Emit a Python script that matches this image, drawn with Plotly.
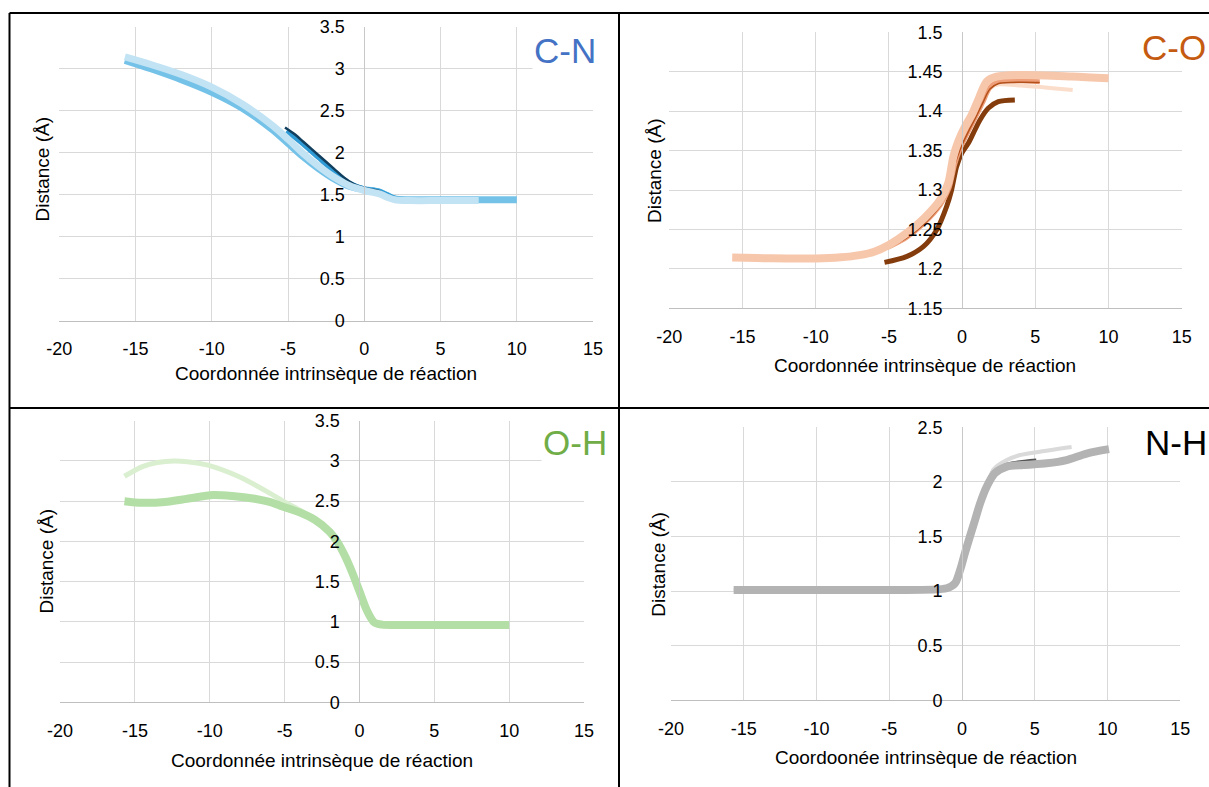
import plotly.graph_objects as go

W, H = 1209, 787

# ---------------- DATA ----------------
# Panel C-N
cn_a_x = [-15.7, -14, -12, -10, -8, -6, -5, -4, -3, -2, -1, 0, 0.5, 1, 1.5, 2, 3, 5, 7.5]
cn_a_y = [3.14, 3.05, 2.93, 2.78, 2.58, 2.32, 2.16, 1.99, 1.84, 1.71, 1.61, 1.55, 1.53, 1.51, 1.47, 1.44, 1.43, 1.43, 1.43]
cn_b_x = [-15.7, -14, -12, -10, -8, -6, -5, -4, -3, -2, -1, 0, 0.5, 1, 1.5, 2, 3, 5, 7.5, 10]
cn_b_y = [3.10, 3.00, 2.87, 2.72, 2.53, 2.27, 2.11, 1.95, 1.81, 1.69, 1.60, 1.56, 1.55, 1.53, 1.49, 1.45, 1.44, 1.44, 1.44, 1.44]
cn_c_x = [-5.1, -4, -3, -2, -1, 0, 1, 2, 3]
cn_c_y = [2.26, 2.10, 1.94, 1.78, 1.64, 1.57, 1.54, 1.46, 1.44]
cn_d_x = [-5.2, -4.5, -4, -3, -2, -1.5, -1, -0.5, 0, 0.5, 1, 1.5, 2, 3]
cn_d_y = [2.30, 2.21, 2.13, 1.97, 1.81, 1.73, 1.66, 1.61, 1.58, 1.56, 1.54, 1.49, 1.45, 1.44]

# Panel C-O
co_a_x = [-15.7, -14, -12, -10, -8.3, -7, -6, -5, -3.8, -2.6, -1.5, -0.95, -0.6, -0.27, 0.2, 0.65, 1.1, 1.67, 2.35, 4.2, 7.5, 10]
co_a_y = [1.2143, 1.2137, 1.2133, 1.2132, 1.2147, 1.2175, 1.2218, 1.2303, 1.2451, 1.2641, 1.2873, 1.3085, 1.3423, 1.3613, 1.3803, 1.3951, 1.4142, 1.4374, 1.4437, 1.4459, 1.4440, 1.4417]
co_b_x = [-5.1, -3.8, -2.6, -1.5, -0.9, -0.5, -0.1, 0.4, 0.9, 1.4, 1.9, 2.5, 4, 6, 7.55]
co_b_y = [1.2290, 1.2420, 1.2600, 1.2830, 1.3040, 1.3350, 1.3560, 1.3760, 1.3940, 1.4120, 1.4290, 1.4340, 1.4325, 1.4295, 1.4268]
co_c_x = [-5.1, -3.8, -2.6, -1.5, -0.9, -0.5, -0.1, 0.4, 0.9, 1.4, 1.9, 2.5, 4, 5.3]
co_c_y = [1.2270, 1.2400, 1.2580, 1.2810, 1.3020, 1.3330, 1.3540, 1.3740, 1.3920, 1.4110, 1.4300, 1.4380, 1.4385, 1.4374]
co_d_x = [-5.1, -3.8, -2.6, -1.5, -0.9, -0.5, -0.1, 0.4, 0.9, 1.4, 1.9, 2.5, 4, 5.3]
co_d_y = [1.2260, 1.2390, 1.2570, 1.2800, 1.3010, 1.3320, 1.3530, 1.3730, 1.3910, 1.4100, 1.4280, 1.4350, 1.4368, 1.4362]
co_e_x = [-5.3, -3.8, -2.65, -1.74, -1.06, -0.72, -0.38, -0.03, 0.42, 0.76, 1.22, 1.78, 2.47, 3.6]
co_e_y = [1.2083, 1.2155, 1.2281, 1.2493, 1.2789, 1.3000, 1.3296, 1.3466, 1.3592, 1.3719, 1.3888, 1.4036, 1.4120, 1.4142]

# Panel O-H
oh_a_x = [-15.7, -14.5, -13.5, -12.4, -11.5, -10.2, -8, -6, -5, -4, -3, -2, -1.5, -1, -0.5, 0, 0.5, 1, 1.5, 3, 5, 7.5]
oh_a_y = [2.81, 2.93, 2.98, 3.00, 2.99, 2.95, 2.80, 2.60, 2.49, 2.39, 2.28, 2.13, 2.00, 1.83, 1.62, 1.40, 1.16, 1.00, 0.975, 0.97, 0.965, 0.965]
oh_b_x = [-15.7, -14.5, -13, -11.5, -9.8, -8.5, -7, -6, -5.3, -4, -3, -2, -1.5, -1, -0.5, 0, 0.5, 1, 1.5, 3, 5, 7.5, 10]
oh_b_y = [2.50, 2.48, 2.49, 2.53, 2.577, 2.565, 2.53, 2.49, 2.443, 2.36, 2.27, 2.12, 2.00, 1.83, 1.62, 1.38, 1.14, 0.99, 0.965, 0.96, 0.96, 0.96, 0.96]
oh_c_x = [-5.2, -4, -3, -2]
oh_c_y = [2.45, 2.37, 2.27, 2.12]

# Panel N-H
nh_a_x = [-15.7, -10, -5, -1.06, -0.49, -0.14, 0.2, 0.54, 0.89, 1.23, 1.69, 2.26, 3.07, 4.2, 5.81, 7.18, 8.56, 10.1]
nh_a_y = [1.01, 1.01, 1.01, 1.026, 1.07, 1.19, 1.35, 1.50, 1.65, 1.80, 1.956, 2.08, 2.14, 2.155, 2.17, 2.20, 2.26, 2.30]
nh_b_x = [-15.7, -10, -5, -1.06, -0.49, -0.14, 0.2, 0.54, 0.89, 1.23, 1.69, 2.2, 3.07, 3.98, 5.35, 7.53]
nh_b_y = [1.01, 1.01, 1.01, 1.026, 1.07, 1.19, 1.35, 1.50, 1.66, 1.81, 1.97, 2.12, 2.20, 2.246, 2.277, 2.32]
nh_c_x = [-5.1, -1.06, -0.49, -0.14, 0.2, 0.54, 0.89, 1.23, 1.69, 2.37, 3.5, 5.1]
nh_c_y = [1.01, 1.03, 1.08, 1.20, 1.37, 1.52, 1.67, 1.82, 1.98, 2.13, 2.175, 2.20]
nh_d_x = [-5.1, -1.06, -0.49, -0.14, 0.2, 0.54, 0.89, 1.23, 1.69, 2.2, 2.8]
nh_d_y = [1.01, 1.03, 1.08, 1.21, 1.38, 1.54, 1.69, 1.84, 2.00, 2.13, 2.17]

x_ticks = [-20, -15, -10, -5, 0, 5, 10, 15]
x_tick_labels = ["-20", "-15", "-10", "-5", "0", "5", "10", "15"]
x_title_1 = "Coordonnée intrinsèque de réaction"
x_title_4 = "Coordoonée intrinsèque de réaction"
y_title = "Distance (Å)"
panel_labels = ["C-N", "C-O", "O-H", "N-H"]
label_colors = ["#4472C4", "#C55A11", "#70AD47", "#000000"]

# ---------------- LAYOUT GEOMETRY (pixels) ----------------
boxes = [
    (59.3, 593.1, 26.7, 320.7),
    (669.2, 1181.8, 32.3, 308.3),
    (60.1, 584.0, 420.7, 702.3),
    (671.1, 1180.3, 427.3, 700.3),
]
y_ranges = [[0, 3.5], [1.15, 1.5], [0, 3.5], [0, 2.5]]
y_dticks = [0.5, 0.05, 0.5, 0.5]
label_pos = [(565, 50), (1174, 47), (575, 442), (1176, 442)]
ytitle_pos = [(41.5, 169), (655, 171), (45.5, 561), (657.7, 564)]
xtitle_y = [373, 365, 760, 757]

FONT = "Liberation Sans, Arial, sans-serif"


def px(x):
    return x / W


def py(y):
    return 1 - y / H


fig = go.Figure()

series = [
    # panel index, x, y, color, width  (drawing order = list order)
    (0, cn_b_x, cn_b_y, "#74C2E8", 7),
    (0, cn_c_x, cn_c_y, "#2E9BD6", 5),
    (0, cn_d_x, cn_d_y, "#123F5E", 2.5),
    (0, cn_a_x, cn_a_y, "#C2E3F4", 7),
    (1, co_e_x, co_e_y, "#843C0C", 5),
    (1, co_b_x, co_b_y, "#FBDDCB", 4),
    (1, co_c_x, co_c_y, "#EE9E78", 5),
    (1, co_d_x, co_d_y, "#B4501A", 1.5),
    (1, co_a_x, co_a_y, "#F7C7AC", 8),
    (2, oh_a_x, oh_a_y, "#DAEFD0", 5),
    (2, oh_c_x, oh_c_y, "#4E8A35", 1.5),
    (2, oh_b_x, oh_b_y, "#B3DFA6", 8),
    (3, nh_c_x, nh_c_y, "#555555", 3),
    (3, nh_d_x, nh_d_y, "#111111", 1.5),
    (3, nh_b_x, nh_b_y, "#DADADA", 4),
    (3, nh_a_x, nh_a_y, "#B3B3B3", 8),
]

for (p, xs, ys, col, w) in series:
    sfx = "" if p == 0 else str(p + 1)
    fig.add_trace(go.Scatter(
        x=xs, y=ys, mode="lines",
        line=dict(color=col, width=w, shape="spline", smoothing=0.8),
        xaxis="x" + sfx, yaxis="y" + sfx, showlegend=False, hoverinfo="x+y",
    ))

layout = dict(
    width=W, height=H,
    margin=dict(l=0, r=0, t=0, b=0, pad=0, autoexpand=False),
    paper_bgcolor="white", plot_bgcolor="white",
    showlegend=False,
    font=dict(family=FONT, size=18, color="#000000"),
)

annotations = []
shapes = []
for i, (l, r, t, b) in enumerate(boxes):
    sfx = "" if i == 0 else str(i + 1)
    xd = [px(l), px(r)]
    yd = [py(b), py(t)]
    yaxis_pos = px(l + (r - l) * 20.0 / 35.0)
    layout["xaxis" + sfx] = dict(
        domain=xd, range=[-20, 15], tickvals=x_ticks, ticktext=x_tick_labels,
        showgrid=True, gridcolor="#D9D9D9", gridwidth=1,
        zeroline=False, showline=True, linecolor="#BFBFBF", linewidth=1,
        ticks="", ticklabelstandoff=12, automargin=False,
        tickfont=dict(family=FONT, size=18, color="#000000"),
        anchor="y" + sfx,
    )
    layout["yaxis" + sfx] = dict(
        domain=yd, range=y_ranges[i], dtick=y_dticks[i], tick0=0,
        showgrid=True, gridcolor="#D9D9D9", gridwidth=1,
        zeroline=False, showline=True, linecolor="#C8C8C8", linewidth=1,
        ticks="", ticklabelstandoff=16, automargin=False,
        tickfont=dict(family=FONT, size=18, color="#000000"),
        anchor="free", position=yaxis_pos,
    )
    lx, ly = label_pos[i]
    annotations.append(dict(
        x=px(lx), y=py(ly), xref="paper", yref="paper", showarrow=False,
        text=panel_labels[i], font=dict(family=FONT, size=35, color=label_colors[i]),
        bgcolor="white", xanchor="center", yanchor="middle",
    ))
    tx, ty = ytitle_pos[i]
    annotations.append(dict(
        x=px(tx), y=py(ty), xref="paper", yref="paper", showarrow=False,
        text=y_title, textangle=-90, font=dict(family=FONT, size=19, color="#000000"),
        xanchor="center", yanchor="middle",
    ))
    annotations.append(dict(
        x=px((l + r) / 2), y=py(xtitle_y[i]), xref="paper", yref="paper", showarrow=False,
        text=x_title_4 if i == 3 else x_title_1,
        font=dict(family=FONT, size=19, color="#000000"),
        xanchor="center", yanchor="middle",
    ))

frame = [
    (9.5, 13, W, 13),
    (9.5, 408, W, 408),
    (9.5, 13, 9.5, H),
    (619, 13, 619, H),
]
for (x0, y0, x1, y1) in frame:
    shapes.append(dict(type="line", xref="paper", yref="paper",
                       x0=px(x0), y0=py(y0), x1=px(x1), y1=py(y1),
                       line=dict(color="black", width=2)))

layout["annotations"] = annotations
layout["shapes"] = shapes
fig.update_layout(**layout)
fig.write_html(
    "out.html",
    config={"displayModeBar": False},
    post_script="document.body.style.margin='0';document.body.style.padding='0';"
                "document.body.style.overflow='hidden';",
)
